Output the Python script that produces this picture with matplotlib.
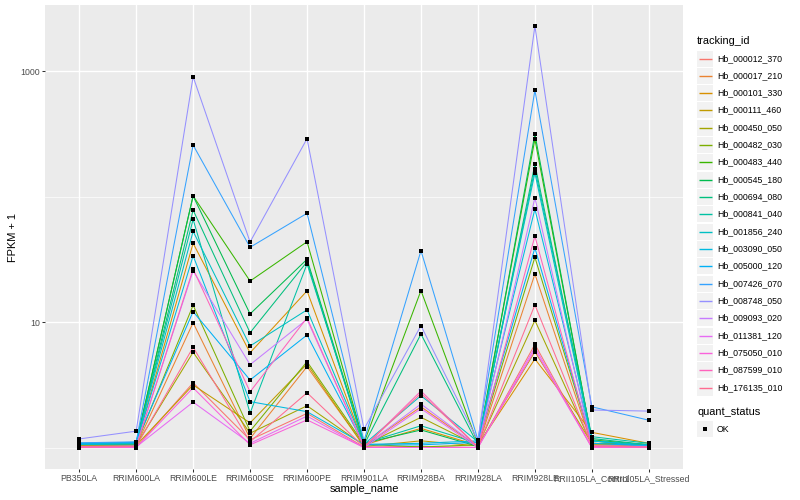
import matplotlib
matplotlib.use("Agg")
import matplotlib.pyplot as plt
from matplotlib.patches import Rectangle
from matplotlib.ticker import FixedLocator, NullFormatter

samples = ["PB350LA", "RRIM600LA", "RRIM600LE", "RRIM600SE", "RRIM600PE",
           "RRIM901LA", "RRIM928BA", "RRIM928LA", "RRIM928LE",
           "RRII105LA_Control", "RRII105LA_Stressed"]

tracking_ids = ["Hb_000012_370", "Hb_000017_210", "Hb_000101_330", "Hb_000111_460",
                "Hb_000450_050", "Hb_000482_030", "Hb_000483_440", "Hb_000545_180",
                "Hb_000694_080", "Hb_000841_040", "Hb_001856_240", "Hb_003090_050",
                "Hb_005000_120", "Hb_007426_070", "Hb_008748_050", "Hb_009093_020",
                "Hb_011381_120", "Hb_075050_010", "Hb_087599_010", "Hb_176135_010"]

# ggplot2 default hue palette, 20 levels
colors = ["#F8766D", "#EA8331", "#D89000", "#C09B00", "#A3A500", "#7CAE00",
          "#39B600", "#00BB4E", "#00BF7D", "#00C1A3", "#00BFC4", "#00BAE0",
          "#00B0F6", "#35A2FF", "#9590FF", "#C77CFF", "#E76BF3", "#FA62DB",
          "#FF62BC", "#FF6C91"]

# FPKM + 1, one list per gene, in sample order
hb_000012_370 = [1.00, 1.00, 3.28, 1.15, 1.87, 1.01, 1.02, 1.00, 6.64, 1.00, 1.00]
hb_000017_210 = [1.02, 1.03, 9.87, 1.18, 4.41, 1.03, 2.11, 1.02, 24.1, 1.05, 1.03]
hb_000101_330 = [1.03, 1.05, 42.4, 5.69, 17.7, 1.05, 1.42, 1.04, 5.07, 1.32, 1.08]
hb_000111_460 = [1.02, 1.04, 3.15, 1.57, 4.63, 1.02, 1.13, 1.03, 5.80, 1.08, 1.04]
hb_000450_050 = [1.03, 1.04, 5.74, 1.30, 2.15, 1.04, 1.74, 1.03, 10.3, 1.05, 1.05]
hb_000482_030 = [1.05, 1.06, 13.6, 1.35, 4.83, 1.06, 1.01, 1.05, 32.8, 1.08, 1.06]
hb_000483_440 = [1.08, 1.09, 101, 21.2, 43.6, 1.09, 17.8, 1.07, 286, 1.15, 1.05]
hb_000545_180 = [1.07, 1.08, 101, 11.6, 31.6, 1.08, 1.38, 1.02, 315, 1.13, 1.02]
hb_000694_080 = [1.06, 1.07, 78.0, 8.22, 30.2, 1.05, 8.02, 1.05, 181, 1.18, 1.05]
hb_000841_040 = [1.06, 1.08, 65.8, 1.88, 29.0, 1.08, 1.49, 1.08, 166, 1.22, 1.08]
hb_001856_240 = [1.07, 1.09, 52.8, 6.44, 12.5, 1.06, 2.59, 1.11, 154, 1.13, 1.05]
hb_003090_050 = [1.06, 1.07, 33.7, 2.32, 1.93, 1.06, 1.08, 1.13, 79.4, 1.13, 1.02]
hb_005000_120 = [1.08, 1.10, 12.1, 3.45, 7.88, 1.05, 1.05, 1.10, 38.9, 1.08, 1.03]
hb_007426_070 = [1.09, 1.11, 257, 39.4, 73.5, 1.13, 37.0, 1.15, 702, 2.11, 1.65]
hb_008748_050 = [1.17, 1.35, 901, 43.4, 289, 1.40, 9.35, 1.13, 2285, 1.99, 1.95]
hb_009093_020 = [1.02, 1.03, 25.6, 4.57, 10.5, 1.02, 2.22, 1.02, 97.8, 1.03, 1.02]
hb_011381_120 = [1.00, 1.01, 2.30, 1.08, 1.78, 1.00, 2.04, 1.00, 6.29, 1.00, 1.00]
hb_075050_010 = [1.00, 1.00, 2.99, 1.05, 1.66, 1.00, 1.00, 1.00, 5.98, 1.00, 1.00]
hb_087599_010 = [1.01, 1.02, 26.4, 2.78, 10.8, 1.01, 2.82, 1.01, 48.4, 1.02, 1.01]
hb_176135_010 = [1.01, 1.02, 6.29, 1.11, 2.73, 1.01, 2.70, 1.01, 13.7, 1.03, 1.01]

fpkm_plus_1 = [hb_000012_370, hb_000017_210, hb_000101_330, hb_000111_460,
               hb_000450_050, hb_000482_030, hb_000483_440, hb_000545_180,
               hb_000694_080, hb_000841_040, hb_001856_240, hb_003090_050,
               hb_005000_120, hb_007426_070, hb_008748_050, hb_009093_020,
               hb_011381_120, hb_075050_010, hb_087599_010, hb_176135_010]

plt.rcParams['font.family'] = ['Liberation Sans', 'DejaVu Sans']

W, H = 800, 500
fig = plt.figure(figsize=(8, 5), dpi=100)
ax = fig.add_axes([45 / W, 31 / H, 638 / W, 464 / H])

x = list(range(len(samples)))
for col, vals in zip(colors, fpkm_plus_1):
    ax.plot(x, vals, color=col, lw=0.75, zorder=2)
for vals in fpkm_plus_1:
    ax.plot(x, vals, ls='none', marker='s', ms=2.6, mew=0, color='black', zorder=3)

ax.set_yscale('log')
ax.set_ylim(10 ** -0.1713, 10 ** 3.526)
ax.set_xlim(-0.6, len(samples) - 0.4)
ax.set_facecolor('#EBEBEB')
for s in ax.spines.values():
    s.set_visible(False)

ax.set_xticks(x)
ax.set_xticklabels(samples)
ax.yaxis.set_major_locator(FixedLocator([10, 1000]))
ax.set_yticklabels(['10', '1000'])
ax.yaxis.set_minor_locator(FixedLocator([1, 100]))
ax.yaxis.set_minor_formatter(NullFormatter())
ax.tick_params(which='minor', length=0)
ax.tick_params(which='major', length=2.0, width=0.75, color='#333333',
               labelcolor='#4D4D4D', labelsize=6.3, pad=1.6)
ax.grid(which='major', color='white', lw=1.0)
ax.grid(which='minor', axis='y', color='white', lw=0.5)
ax.set_axisbelow(True)

fig.text(364 / W, 1 - 489 / H, 'sample_name', ha='center', va='center', fontsize=7.9)
fig.text(13 / W, 1 - 237 / H, 'FPKM + 1', ha='center', va='center',
         rotation=90, fontsize=7.9)

# legends drawn in a pixel-coordinate overlay
lax = fig.add_axes([0, 0, 1, 1], facecolor='none')
lax.set_xlim(0, W)
lax.set_ylim(H, 0)
lax.axis('off')

lax.text(697, 41, 'tracking_id', fontsize=7.9, ha='left', va='center')
for i, (tid, col) in enumerate(zip(tracking_ids, colors)):
    yc = round(57.5 + i * 17.33) + 0.5
    lax.add_patch(Rectangle((697, yc - 8), 16, 16, facecolor='#F2F2F2', edgecolor='none'))
    lax.plot([698.5, 711.5], [yc, yc], color=col, lw=1.0, solid_capstyle='butt')
    lax.text(717, yc, tid, fontsize=6.3, ha='left', va='center')

lax.text(697, 412, 'quant_status', fontsize=7.9, ha='left', va='center')
lax.add_patch(Rectangle((697, 421), 16, 16, facecolor='#F2F2F2', edgecolor='none'))
lax.plot([705], [429], ls='none', marker='s', ms=2.6, mew=0, color='black')
lax.text(717, 429, 'OK', fontsize=6.3, ha='left', va='center')

fig.savefig('out.png', dpi=100)
